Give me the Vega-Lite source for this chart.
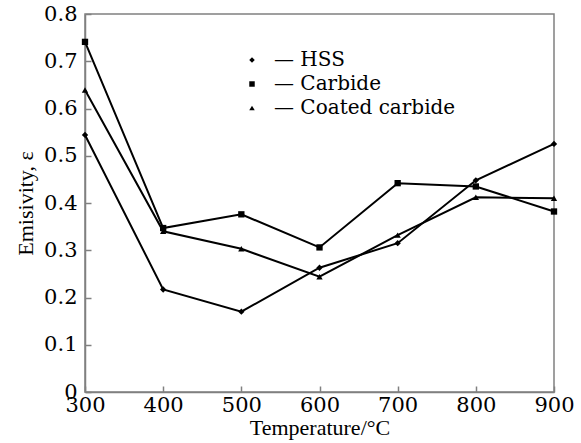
{
  "$schema": "https://vega.github.io/schema/vega-lite/v6.json",
  "width": 469,
  "height": 378,
  "autosize": {"type": "none"},
  "padding": {"left": 85, "top": 14, "right": 27, "bottom": 51},
  "background": "white",
  "config": {
    "font": "Liberation Serif",
    "view": {"stroke": "#808080", "strokeWidth": 1.5},
    "axis": {
      "domainColor": "#808080",
      "domainWidth": 1.5,
      "tickColor": "#808080",
      "tickWidth": 1.5,
      "tickSize": -6,
      "grid": false,
      "labelFont": "DejaVu Serif",
      "labelFontSize": 21,
      "labelFontWeight": "normal",
      "labelFontStyle": "normal",
      "labelColor": "#000000",
      "titleFont": "Liberation Serif",
      "titleFontSize": 22,
      "titleFontWeight": "normal",
      "titleColor": "#000000"
    },
    "legend": {
      "labelFont": "DejaVu Serif",
      "labelFontSize": 20,
      "labelFontWeight": "normal",
      "labelColor": "#000000",
      "labelLimit": 400,
      "padding": 0
    }
  },
  "data": {
    "values": [
      {"temp": 300, "series": "HSS", "emissivity": 0.544},
      {"temp": 400, "series": "HSS", "emissivity": 0.217},
      {"temp": 500, "series": "HSS", "emissivity": 0.170},
      {"temp": 600, "series": "HSS", "emissivity": 0.263},
      {"temp": 700, "series": "HSS", "emissivity": 0.315},
      {"temp": 800, "series": "HSS", "emissivity": 0.448},
      {"temp": 900, "series": "HSS", "emissivity": 0.525},
      {"temp": 300, "series": "Carbide", "emissivity": 0.741},
      {"temp": 400, "series": "Carbide", "emissivity": 0.347},
      {"temp": 500, "series": "Carbide", "emissivity": 0.376},
      {"temp": 600, "series": "Carbide", "emissivity": 0.306},
      {"temp": 700, "series": "Carbide", "emissivity": 0.442},
      {"temp": 800, "series": "Carbide", "emissivity": 0.435},
      {"temp": 900, "series": "Carbide", "emissivity": 0.382},
      {"temp": 300, "series": "Coated carbide", "emissivity": 0.639},
      {"temp": 400, "series": "Coated carbide", "emissivity": 0.340},
      {"temp": 500, "series": "Coated carbide", "emissivity": 0.303},
      {"temp": 600, "series": "Coated carbide", "emissivity": 0.244},
      {"temp": 700, "series": "Coated carbide", "emissivity": 0.332},
      {"temp": 800, "series": "Coated carbide", "emissivity": 0.412},
      {"temp": 900, "series": "Coated carbide", "emissivity": 0.410}
    ]
  },
  "encoding": {
    "x": {
      "field": "temp",
      "type": "quantitative",
      "title": "Temperature/°C",
      "scale": {"domain": [300, 900], "nice": false, "zero": false},
      "axis": {
        "values": [300, 400, 500, 600, 700, 800, 900],
        "labelPadding": 8,
        "titlePadding": 2,
        "labelFlush": false
      }
    },
    "y": {
      "field": "emissivity",
      "type": "quantitative",
      "title": "Emisivity, ε",
      "scale": {"domain": [0, 0.8], "nice": false},
      "axis": {
        "values": [0, 0.1, 0.2, 0.3, 0.4, 0.5, 0.6, 0.7, 0.8],
        "format": ".1~f",
        "labelPadding": 14,
        "titlePadding": 6,
        "labelFlush": false
      }
    }
  },
  "layer": [
    {
      "mark": {"type": "line", "color": "#000000", "strokeWidth": 2},
      "encoding": {"detail": {"field": "series"}}
    },
    {
      "mark": {"type": "point", "filled": true, "color": "#000000", "opacity": 1, "size": 40},
      "encoding": {
        "shape": {
          "field": "series",
          "type": "nominal",
          "sort": ["HSS", "Carbide", "Coated carbide"],
          "scale": {"domain": ["HSS", "Carbide", "Coated carbide"], "range": ["diamond", "square", "triangle-up"]},
          "legend": {
            "title": null,
            "orient": "none",
            "legendX": 157,
            "legendY": 36,
            "labelExpr": "'\u2014  ' + datum.label",
            "labelLimit": 400,
            "symbolFillColor": "#000000",
            "symbolStrokeColor": "#000000",
            "symbolSize": 30,
            "symbolOpacity": 1,
            "labelOffset": 12,
            "rowPadding": 4
          }
        }
      }
    }
  ]
}
